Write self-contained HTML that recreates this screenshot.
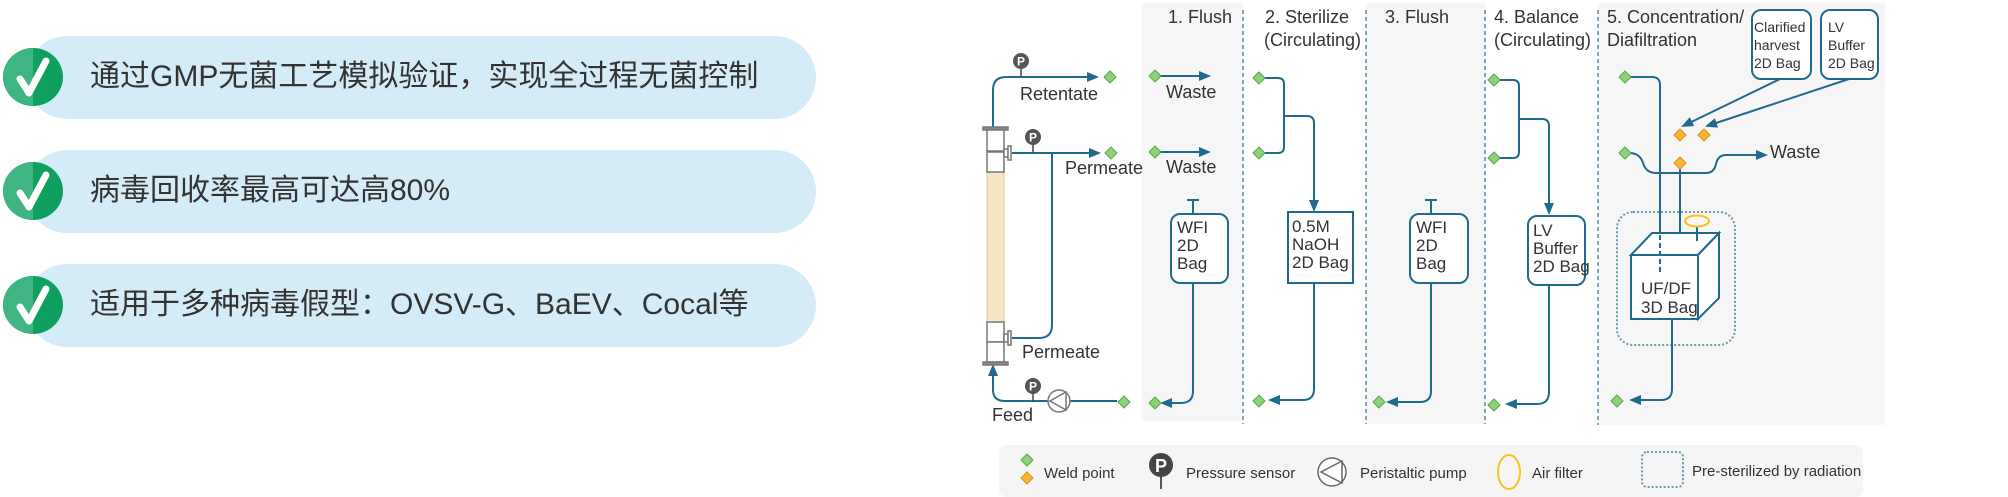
<!DOCTYPE html>
<html><head><meta charset="utf-8"><style>
html,body{margin:0;padding:0;background:#fff;width:2008px;height:497px;overflow:hidden;position:relative;font-family:"Liberation Sans","Noto Sans CJK SC",sans-serif}
.pill{position:absolute;left:26px;width:790px;height:83px;background:#d4ebf8;border-radius:42px}
.txt{position:absolute;left:90px;font-size:30px;color:#333;white-space:nowrap;line-height:34px}
svg{position:absolute;left:0;top:0}
</style></head><body>
<div class="pill" style="top:36px"></div>
<div class="pill" style="top:150px"></div>
<div class="pill" style="top:264px"></div>
<div class="txt" style="top:60px">通过GMP无菌工艺模拟验证，实现全过程无菌控制</div>
<div class="txt" style="top:174px">病毒回收率最高可达高80%</div>
<div class="txt" style="top:288px">适用于多种病毒假型：OVSV-G、BaEV、Cocal等</div>
<svg width="2008" height="497" viewBox="0 0 2008 497" font-family="Liberation Sans, sans-serif" fill="none">
<defs>
<marker id="a" markerWidth="6" markerHeight="6" refX="5" refY="3" orient="auto"><path d="M0,0.5 L6,3 L0,5.5z" fill="#1f6a8e"/></marker>
<g id="ck"><ellipse cx="0" cy="0" rx="30" ry="29" fill="#0fa060"/><path d="M0,-29 A30,29 0 0 0 0,29z" fill="#3fb583"/><path d="M-13,2 L-4,16 L13,-16" stroke="#fff" stroke-width="7" stroke-linecap="round" stroke-linejoin="round"/></g>
<g id="gd"><path d="M0,-6 L6,0 L0,6 L-6,0z" fill="#8fd17a" stroke="#5aa84a" stroke-width="1"/></g>
<g id="od"><path d="M0,-6 L6,0 L0,6 L-6,0z" fill="#f7b733" stroke="#e08a20" stroke-width="1"/></g>
<g id="ps"><line x1="0" y1="0" x2="0" y2="16" stroke="#444" stroke-width="1.5"/><circle r="8" fill="#555"/><text x="0" y="4.5" font-size="12" font-weight="bold" fill="#fff" text-anchor="middle">P</text></g>
</defs>
<use href="#ck" x="33" y="77"/><use href="#ck" x="33" y="191"/><use href="#ck" x="33" y="305"/>
<rect x="1142" y="3" width="101" height="418" fill="#f6f6f6"/>
<rect x="1366" y="3" width="119" height="421" fill="#f6f6f6"/>
<rect x="1598" y="3" width="287" height="422" fill="#f6f6f6"/>
<g stroke="#3a7a9a" stroke-width="1.3" stroke-dasharray="4,3">
<line x1="1243" y1="10" x2="1243" y2="424"/><line x1="1366" y1="10" x2="1366" y2="424"/><line x1="1485" y1="10" x2="1485" y2="424"/><line x1="1598" y1="10" x2="1598" y2="425"/></g>
<g fill="#333" font-size="18">
<text x="1168" y="23">1. Flush</text>
<text x="1265" y="23">2. Sterilize</text><text x="1264" y="46">(Circulating)</text>
<text x="1385" y="23">3. Flush</text>
<text x="1494" y="23">4. Balance</text><text x="1494" y="46">(Circulating)</text>
<text x="1607" y="23">5. Concentration/</text><text x="1607" y="46">Diafiltration</text>
</g>
<g stroke="#1f6a8e" stroke-width="2">
<path d="M993,128 V90 Q993,77 1006,77 H1097" marker-end="url(#a)"/>
<path d="M1012,153 H1099" marker-end="url(#a)"/>
<path d="M1052,153 V325 Q1052,338 1039,338 H1012"/>
<path d="M1117,401 H1070 M1048,401 H1005 Q993,401 993,390 V366" marker-end="url(#a)"/>
</g>
<rect x="987" y="172" width="17" height="150" fill="#f6e4c4" stroke="#ddc9a0"/>
<g stroke="#777" stroke-width="1.5" fill="#fff">
<rect x="983" y="127" width="25" height="3" fill="#888"/>
<rect x="987" y="130" width="17" height="21"/><rect x="987" y="152" width="17" height="20"/>
<rect x="987" y="322" width="17" height="20"/><rect x="987" y="342" width="17" height="20"/>
<rect x="983" y="362" width="25" height="3" fill="#888"/>
<rect x="1004" y="149" width="4" height="8"/><rect x="1008" y="146" width="3" height="14"/>
<rect x="1004" y="334" width="4" height="8"/><rect x="1008" y="331" width="3" height="14"/>
</g>
<use href="#ps" x="1021" y="61"/><use href="#ps" x="1033" y="137"/><use href="#ps" x="1033" y="386"/>
<circle cx="1059" cy="401" r="11" fill="#fff" stroke="#777" stroke-width="1.5"/><path d="M1066,392 L1050,401 L1066,410 Z" stroke="#777" stroke-width="1.5"/>
<use href="#gd" x="1110" y="77"/><use href="#gd" x="1111" y="153"/><use href="#gd" x="1124" y="402"/>
<g fill="#333" font-size="18"><text x="1020" y="100">Retentate</text><text x="1065" y="174">Permeate</text><text x="1022" y="358">Permeate</text><text x="992" y="421">Feed</text></g>
<g stroke="#1f6a8e" stroke-width="2">
<path d="M1159,76 H1209" marker-end="url(#a)"/><path d="M1159,152 H1209" marker-end="url(#a)"/>
<path d="M1193,200 V214 M1187,200 H1199"/>
<path d="M1193,283 V391 Q1193,403 1181,403 H1162" marker-end="url(#a)"/>
<rect x="1171" y="214" width="57" height="69" rx="9" fill="#fff"/>
<path d="M1263,78 H1278 Q1284,78 1284,84 V147 Q1284,153 1278,153 H1263"/>
<path d="M1284,116 H1307 Q1314,116 1314,123 V210" marker-end="url(#a)"/>
<rect x="1288" y="212" width="65" height="71" fill="#fff"/>
<path d="M1314,283 V389 Q1314,400 1303,400 H1270" marker-end="url(#a)"/>
<path d="M1431,200 V214 M1425,200 H1437"/>
<rect x="1410" y="214" width="58" height="69" rx="9" fill="#fff"/>
<path d="M1431,283 V391 Q1431,402 1420,402 H1388" marker-end="url(#a)"/>
<path d="M1498,80 H1513 Q1519,80 1519,86 V152 Q1519,158 1513,158 H1498"/>
<path d="M1519,119 H1542 Q1549,119 1549,126 V213" marker-end="url(#a)"/>
<rect x="1528" y="216" width="57" height="69" rx="9" fill="#fff"/>
<path d="M1549,285 V392 Q1549,404 1537,404 H1507" marker-end="url(#a)"/>
<rect x="1752" y="10" width="59" height="69" rx="9" fill="#fff"/>
<rect x="1821" y="10" width="57" height="69" rx="9" fill="#fff"/>
<path d="M1780,79 L1683,126" marker-end="url(#a)"/>
<path d="M1849,79 L1707,126" marker-end="url(#a)"/>
<path d="M1629,77 H1652 Q1660,77 1660,85 V235"/>
<path d="M1629,153 Q1640,153 1643,163 Q1646,173 1656,173 H1706 Q1714,173 1716,164 Q1718,155 1726,155 H1766" marker-end="url(#a)"/>
<path d="M1680,169 V242" marker-end="url(#a)"/>
</g>
<rect x="1617" y="212" width="118" height="133" rx="16" stroke="#6f97ad" stroke-width="2" stroke-dasharray="2,2"/>
<g stroke="#1f6a8e" stroke-width="2" fill="#fff">
<path d="M1631,255 L1652,233 H1719 L1698,255z"/><path d="M1698,255 L1719,233 V298 L1698,319z"/>
<rect x="1631" y="255" width="67" height="64"/>
</g>
<g stroke="#1f6a8e" stroke-width="2">
<path d="M1660,235 V275" stroke-dasharray="5,3"/>
<path d="M1697,227 V241"/>
<path d="M1672,319 V389 Q1672,400 1661,400 H1631" marker-end="url(#a)"/>
</g>
<ellipse cx="1697" cy="221" rx="12" ry="5.5" stroke="#f5c518" stroke-width="2"/>
<use href="#gd" x="1155" y="76"/><use href="#gd" x="1155" y="152"/><use href="#gd" x="1155" y="403"/>
<use href="#gd" x="1259" y="78"/><use href="#gd" x="1259" y="153"/><use href="#gd" x="1259" y="401"/>
<use href="#gd" x="1379" y="402"/>
<use href="#gd" x="1494" y="80"/><use href="#gd" x="1494" y="158"/><use href="#gd" x="1494" y="405"/>
<use href="#gd" x="1625" y="77"/><use href="#gd" x="1625" y="153"/><use href="#gd" x="1617" y="401"/>
<use href="#od" x="1680" y="135"/><use href="#od" x="1704" y="135"/><use href="#od" x="1680" y="163"/>
<g fill="#333" font-size="17">
<text x="1166" y="98" font-size="18">Waste</text><text x="1166" y="173" font-size="18">Waste</text>
<text x="1177" y="233">WFI</text><text x="1177" y="251">2D</text><text x="1177" y="269">Bag</text>
<text x="1292" y="232">0.5M</text><text x="1292" y="250">NaOH</text><text x="1292" y="268">2D Bag</text>
<text x="1416" y="233">WFI</text><text x="1416" y="251">2D</text><text x="1416" y="269">Bag</text>
<text x="1533" y="236">LV</text><text x="1533" y="254">Buffer</text><text x="1533" y="272">2D Bag</text>
<text x="1754" y="32" font-size="14">Clarified</text><text x="1754" y="50" font-size="14">harvest</text><text x="1754" y="68" font-size="14">2D Bag</text>
<text x="1828" y="32" font-size="14">LV</text><text x="1828" y="50" font-size="14">Buffer</text><text x="1828" y="68" font-size="14">2D Bag</text>
<text x="1770" y="158" font-size="18">Waste</text>
<text x="1641" y="294">UF/DF</text><text x="1641" y="313">3D Bag</text>
</g>
<rect x="999" y="445" width="864" height="52" rx="8" fill="#f5f5f5"/>
<use href="#gd" x="1027" y="460"/><use href="#od" x="1027" y="478"/>
<g transform="translate(1161,465) scale(1.5)"><line x1="0" y1="0" x2="0" y2="16" stroke="#444" stroke-width="1.2"/><circle r="8" fill="#444"/><text x="0" y="4.5" font-size="12" font-weight="bold" fill="#fff" text-anchor="middle">P</text></g>
<circle cx="1332" cy="472" r="14" fill="#fff" stroke="#666" stroke-width="1.5"/><path d="M1342,461 L1321,472 L1342,483 Z" stroke="#666" stroke-width="1.5"/>
<ellipse cx="1509" cy="472" rx="11" ry="17" stroke="#f5c518" stroke-width="2"/>
<rect x="1642" y="452" width="41" height="35" rx="5" stroke="#6f97ad" stroke-width="2" stroke-dasharray="2,2"/>
<g fill="#333" font-size="15"><text x="1044" y="478">Weld point</text><text x="1186" y="478">Pressure sensor</text><text x="1360" y="478">Peristaltic pump</text><text x="1532" y="478">Air filter</text><text x="1692" y="476">Pre-sterilized by radiation</text></g>
</svg>
</body></html>
